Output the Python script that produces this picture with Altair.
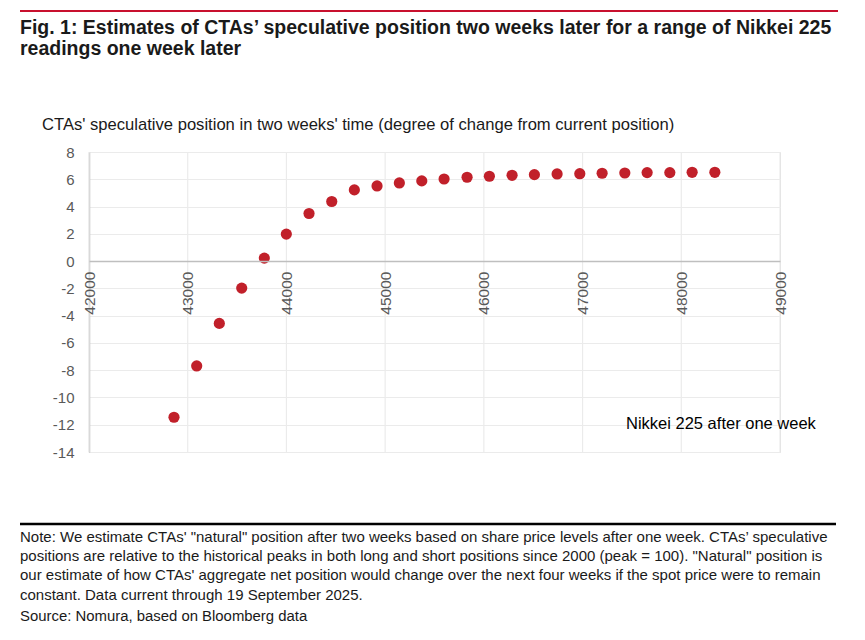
import altair as alt
import pandas as pd

# ---- data ----
nikkei = [42861, 43091, 43320, 43547, 43776, 43999, 44229, 44459, 44688, 44918,
          45144, 45371, 45597, 45830, 46056, 46286, 46512, 46742, 46972, 47198,
          47428, 47654, 47884, 48110, 48340]
position = [-11.45, -7.69, -4.57, -1.98, 0.22, 1.98, 3.49, 4.37, 5.22, 5.51,
            5.73, 5.88, 6.02, 6.15, 6.22, 6.29, 6.34, 6.39, 6.41, 6.44,
            6.46, 6.49, 6.49, 6.51, 6.51]
x_ticks = [42000, 43000, 44000, 45000, 46000, 47000, 48000, 49000]
y_ticks = [-14, -12, -10, -8, -6, -4, -2, 0, 2, 4, 6, 8]

title_lines = "Fig. 1: Estimates of CTAs\u2019 speculative position two weeks later for a range of Nikkei 225\nreadings one week later"
y_title = "CTAs' speculative position in two weeks' time (degree of change from current position)"
x_title = "Nikkei 225 after one week"
note_lines = ("Note: We estimate CTAs' \"natural\" position after two weeks based on share price levels after one week. CTAs\u2019 speculative\n"
              "positions are relative to the historical peaks in both long and short positions since 2000 (peak = 100). \"Natural\" position is\n"
              "our estimate of how CTAs' aggregate net position would change over the next four weeks if the spot price were to remain\n"
              "constant. Data current through 19 September 2025.")
source_line = "Source: Nomura, based on Bloomberg data"

FONT = "Liberation Sans"
W, H = 691, 300
XMIN, XMAX = 42000, 49000
YMIN, YMAX = -14, 8

df = pd.DataFrame({"nikkei": nikkei, "position": position})
xscale = alt.Scale(domain=[XMIN, XMAX], nice=False, zero=False)
yscale = alt.Scale(domain=[YMIN, YMAX], nice=False, zero=False)

zero_offset = -H * (0 - YMIN) / (YMAX - YMIN)

x_axis = alt.Axis(
    values=x_ticks, labelExpr="'' + datum.value", orient="bottom", offset=zero_offset,
    labelAngle=270, labelFont=FONT, labelFontSize=15.5, labelColor="#595959",
    labelPadding=10, ticks=False, grid=False, domainColor="#bfbfbf",
    domainWidth=1.5, title=None, labelOverlap=False, zindex=1)
y_axis = alt.Axis(
    values=y_ticks, labelExpr="'' + datum.value", labelFont=FONT, labelFontSize=15,
    labelColor="#595959", labelPadding=15, ticks=False, grid=True,
    gridColor="#ebebeb", gridWidth=1.2, domainColor="#bfbfbf", domainWidth=1.5,
    title=None, labelOverlap=False)

grid_x = alt.Chart(pd.DataFrame({"x": x_ticks})).mark_rule(
    color="#ebebeb", strokeWidth=1.2
).encode(
    x=alt.X("x:Q", scale=xscale, axis=x_axis),
    y=alt.value(0), y2=alt.value(H),
)

points = alt.Chart(df).mark_circle(size=125, opacity=1, color="#c1202a").encode(
    x=alt.X("nikkei:Q", scale=xscale, axis=x_axis),
    y=alt.Y("position:Q", scale=yscale, axis=y_axis),
)


def text_layer(txt, x, y, size, color="#1a1a1a", weight="normal", lh=None):
    kw = dict(align="left", baseline="alphabetic", font=FONT, fontSize=size,
              color=color, fontWeight=weight)
    if lh is not None:
        kw.update(lineBreak="\n", lineHeight=lh)
    return alt.Chart(pd.DataFrame({"t": [txt]})).mark_text(**kw).encode(
        x=alt.value(x), y=alt.value(y), text="t:N")


def rule_layer(x1, x2, y, color, width):
    return alt.Chart(pd.DataFrame({"a": [0]})).mark_rule(
        color=color, strokeWidth=width).encode(
        x=alt.value(x1), x2=alt.value(x2), y=alt.value(y))

# page coords -> plot coords: (px - 89, py - 152)
red_rule = rule_layer(-69, 749, 11 - 152, "#c8102e", 2.2)
title_t = text_layer(title_lines, -69, 33.5 - 152, 19.5, "#1a1a1a", "bold", 21)
ytitle_t = text_layer(y_title, 42 - 89, 129.5 - 152, 16.6, "#1a1a1a")
xtitle_t = text_layer(x_title, 626 - 89, 428.5 - 152, 16.5, "#000000")
foot_rule = rule_layer(-69, 747, 524 - 152, "#000000", 2.5)
note_t = text_layer(note_lines, -69, 541.8 - 152, 15, "#1a1a1a", "normal", 19.3)
source_t = text_layer(source_line, -69, 621 - 152, 14.9, "#1a1a1a")

chart = alt.layer(
    grid_x, points, red_rule, title_t, ytitle_t, xtitle_t, foot_rule, note_t, source_t
).properties(
    width=W, height=H,
    autosize=alt.AutoSizeParams(type="none"),
    padding={"left": 81, "top": 144, "right": 77, "bottom": 180},
).configure_view(stroke=None).configure(background="white")

chart.save("out.html", embed_options={"renderer": "svg", "actions": False})
